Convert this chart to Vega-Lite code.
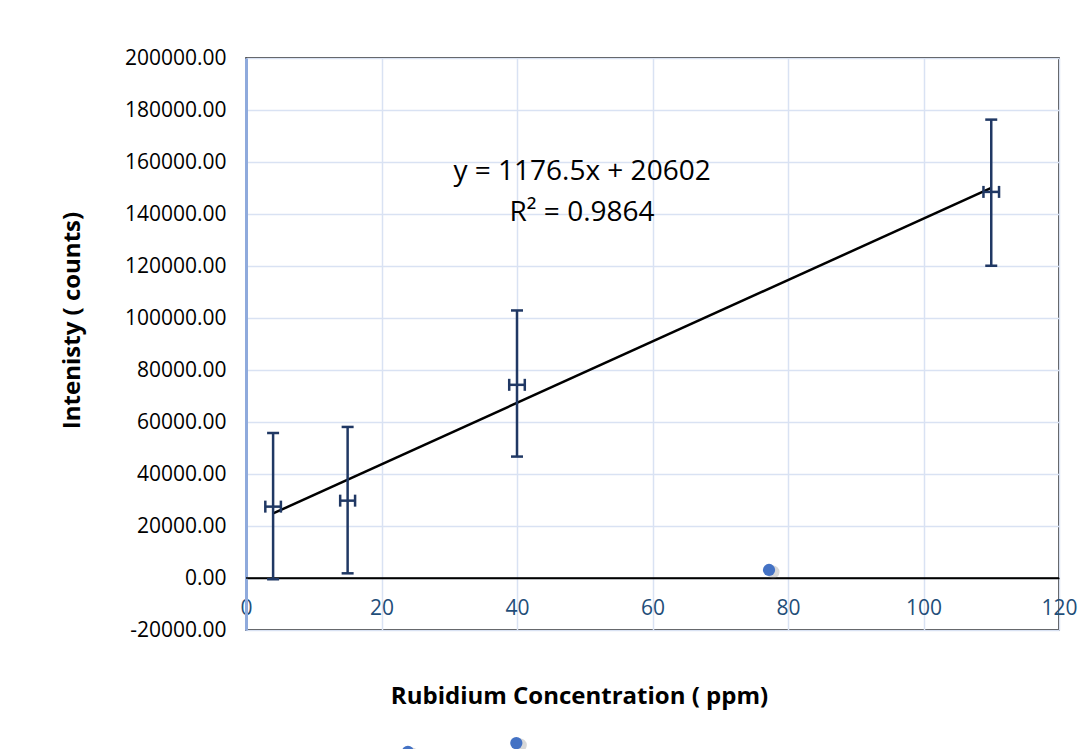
{
  "$schema": "https://vega.github.io/schema/vega-lite/v6.json",
  "width": 813,
  "height": 572,
  "autosize": "none",
  "padding": {"left": 246, "top": 58, "right": 22, "bottom": 119},
  "background": "white",
  "config": {
    "font": "Open Sans",
    "view": {"stroke": "#000000", "strokeWidth": 1.5}
  },
  "datasets": {
    "pts": [
      {"x": 4, "y": 27450, "ylo": -500, "yhi": 55800, "xlo": 2.85, "xhi": 5.15},
      {"x": 15, "y": 29750, "ylo": 1800, "yhi": 58100, "xlo": 13.9, "xhi": 16.1},
      {"x": 40, "y": 74300, "ylo": 46700, "yhi": 102900, "xlo": 38.85, "xhi": 41.15},
      {"x": 110, "y": 148500, "ylo": 120100, "yhi": 176300, "xlo": 108.85, "xhi": 111.15}
    ],
    "stray": [
      {"x": 77.2, "y": 3080},
      {"x": 23.9, "y": -66900},
      {"x": 39.9, "y": -63500}
    ],
    "notes": [
      {"x": 49.6, "y": 156150, "label": "y = 1176.5x + 20602"},
      {"x": 49.6, "y": 140400, "label": "R² = 0.9864"}
    ]
  },
  "layer": [
    {
      "data": {"name": "pts"},
      "mark": {"type": "rule", "strokeWidth": 0, "opacity": 0},
      "encoding": {
        "x": {
          "field": "x", "type": "quantitative",
          "scale": {"domain": [0, 120], "nice": false, "zero": false},
          "axis": {
            "values": [0, 20, 40, 60, 80, 100, 120],
            "offset": -52,
            "domainColor": "#000000", "domainWidth": 1.5,
            "ticks": false,
            "grid": true, "gridColor": "#D9E2F3", "gridWidth": 1.5,
            "labelColor": "#1F4E79", "labelFontSize": 21, "labelPadding": 19,
            "labelFlush": false, "labelOverlap": false,
            "title": "Rubidium Concentration ( ppm)",
            "titleFontSize": 24, "titleFontWeight": "bold", "titleColor": "#000000",
            "titlePadding": 66, "titleX": 333
          }
        },
        "y": {
          "field": "y", "type": "quantitative",
          "scale": {"domain": [-20000, 200000], "nice": false, "zero": false},
          "axis": {
            "values": [-20000, 0, 20000, 40000, 60000, 80000, 100000, 120000, 140000, 160000, 180000, 200000],
            "labelExpr": "replace(format(datum.value, '.2f'), '\u2212', '-')",
            "domainColor": "#8FAADC", "domainWidth": 3,
            "ticks": false,
            "grid": true, "gridColor": "#D9E2F3", "gridWidth": 1.5,
            "labelColor": "#000000", "labelFontSize": 21, "labelPadding": 20,
            "labelOverlap": false,
            "title": "Intenisty ( counts)",
            "titleFontSize": 24, "titleFontWeight": "bold", "titleColor": "#000000",
            "titlePadding": 40, "titleY": 262
          }
        }
      }
    },
    {
      "data": {"values": [{"z": 0}]},
      "mark": {"type": "rule", "color": "#000000", "strokeWidth": 1.5},
      "encoding": {"y": {"field": "z", "type": "quantitative"}}
    },
    {
      "data": {"name": "pts"},
      "transform": [{"regression": "y", "on": "x", "method": "linear", "extent": [4, 110]}],
      "mark": {"type": "line", "color": "#000000", "strokeWidth": 2.5},
      "encoding": {
        "x": {"field": "x", "type": "quantitative"},
        "y": {"field": "y", "type": "quantitative"}
      }
    },
    {
      "data": {"name": "pts"},
      "mark": {"type": "rule", "color": "#203864", "strokeWidth": 2.5},
      "encoding": {
        "x": {"field": "x", "type": "quantitative"},
        "y": {"field": "ylo", "type": "quantitative"},
        "y2": {"field": "yhi"}
      }
    },
    {
      "data": {"name": "pts"},
      "mark": {"type": "tick", "orient": "horizontal", "color": "#203864", "size": 12, "thickness": 2.5, "opacity": 1},
      "encoding": {
        "x": {"field": "x", "type": "quantitative"},
        "y": {"field": "ylo", "type": "quantitative"}
      }
    },
    {
      "data": {"name": "pts"},
      "mark": {"type": "tick", "orient": "horizontal", "color": "#203864", "size": 12, "thickness": 2.5, "opacity": 1},
      "encoding": {
        "x": {"field": "x", "type": "quantitative"},
        "y": {"field": "yhi", "type": "quantitative"}
      }
    },
    {
      "data": {"name": "pts"},
      "mark": {"type": "rule", "color": "#203864", "strokeWidth": 2.5},
      "encoding": {
        "y": {"field": "y", "type": "quantitative"},
        "x": {"field": "xlo", "type": "quantitative"},
        "x2": {"field": "xhi"}
      }
    },
    {
      "data": {"name": "pts"},
      "mark": {"type": "tick", "orient": "vertical", "color": "#203864", "size": 12, "thickness": 2.5, "opacity": 1},
      "encoding": {
        "x": {"field": "xlo", "type": "quantitative"},
        "y": {"field": "y", "type": "quantitative"}
      }
    },
    {
      "data": {"name": "pts"},
      "mark": {"type": "tick", "orient": "vertical", "color": "#203864", "size": 12, "thickness": 2.5, "opacity": 1},
      "encoding": {
        "x": {"field": "xhi", "type": "quantitative"},
        "y": {"field": "y", "type": "quantitative"}
      }
    },
    {
      "data": {"name": "stray"},
      "mark": {"type": "circle", "color": "#7F7F7F", "size": 170, "opacity": 0.3, "xOffset": 4, "yOffset": 2, "clip": false},
      "encoding": {
        "x": {"field": "x", "type": "quantitative"},
        "y": {"field": "y", "type": "quantitative"}
      }
    },
    {
      "data": {"name": "stray"},
      "mark": {"type": "circle", "color": "#4472C4", "size": 150, "opacity": 1, "clip": false},
      "encoding": {
        "x": {"field": "x", "type": "quantitative"},
        "y": {"field": "y", "type": "quantitative"}
      }
    },
    {
      "data": {"name": "notes"},
      "mark": {"type": "text", "fontSize": 28, "color": "#000000", "align": "center", "baseline": "middle", "font": "Open Sans"},
      "encoding": {
        "x": {"field": "x", "type": "quantitative"},
        "y": {"field": "y", "type": "quantitative"},
        "text": {"field": "label"}
      }
    }
  ]
}
